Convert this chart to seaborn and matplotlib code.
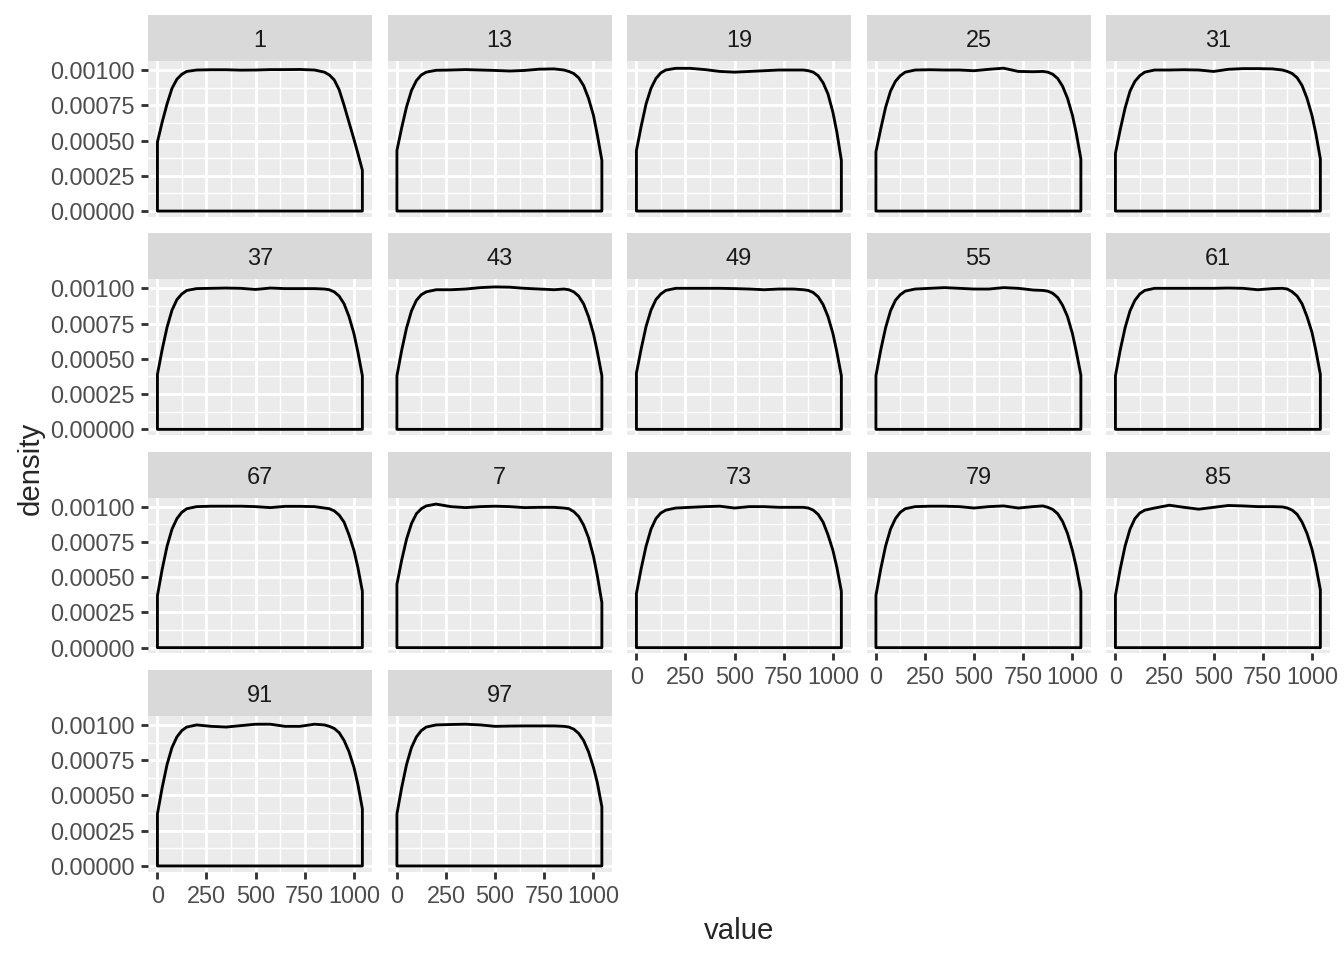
import numpy as np
import pandas as pd
import matplotlib
matplotlib.use("Agg")
import matplotlib.pyplot as plt
import seaborn as sns
from matplotlib.patches import Rectangle
from matplotlib.ticker import MultipleLocator, StrMethodFormatter

# panel labels (ggplot sorts them as text)
panels = ["1", "13", "19", "25", "31", "37", "43", "49", "55",
          "61", "67", "7", "73", "79", "85", "91", "97"]

xs = [1, 25, 50, 75, 100, 125, 150, 200, 275, 350, 425, 500, 575,
      650, 725, 800, 850, 875, 900, 925, 950, 975, 1000, 1020, 1043]

# density values in thousandths, one list per panel
d1 = [0.49, 0.63, 0.76, 0.87, 0.935, 0.97, 0.99, 1.0, 1.002, 1.002, 0.999, 1.0, 1.003,
      1.003, 1.004, 1.0, 0.985, 0.965, 0.93, 0.86, 0.75, 0.63, 0.51, 0.41, 0.29]
d13 = [0.43, 0.59, 0.74, 0.855, 0.925, 0.965, 0.985, 0.998, 1.0, 1.003, 1.0, 0.997, 0.993,
       0.997, 1.006, 1.008, 1.0, 0.99, 0.975, 0.945, 0.89, 0.80, 0.68, 0.54, 0.36]
d19 = [0.43, 0.60, 0.76, 0.87, 0.94, 0.98, 1.0, 1.012, 1.012, 1.003, 0.99, 0.985, 0.99,
       0.995, 1.0, 1.0, 1.0, 0.995, 0.985, 0.96, 0.91, 0.83, 0.70, 0.56, 0.36]
d25 = [0.42, 0.58, 0.735, 0.85, 0.92, 0.96, 0.985, 1.0, 1.002, 1.0, 1.0, 0.995, 1.005,
       1.013, 0.99, 0.988, 0.99, 0.985, 0.97, 0.94, 0.885, 0.80, 0.68, 0.55, 0.37]
d31 = [0.41, 0.575, 0.73, 0.85, 0.92, 0.96, 0.985, 1.0, 1.0, 1.002, 1.0, 0.99, 1.005,
       1.01, 1.01, 1.008, 1.0, 0.99, 0.975, 0.945, 0.89, 0.80, 0.68, 0.55, 0.37]
d37 = [0.39, 0.565, 0.725, 0.845, 0.92, 0.96, 0.985, 0.998, 1.0, 1.002, 1.0, 0.992, 1.002,
       0.998, 0.998, 0.998, 0.995, 0.99, 0.975, 0.945, 0.89, 0.80, 0.68, 0.55, 0.38]
d43 = [0.38, 0.56, 0.72, 0.84, 0.915, 0.955, 0.975, 0.99, 0.99, 0.995, 1.005, 1.01, 1.008,
       1.0, 0.995, 0.99, 0.995, 0.99, 0.975, 0.945, 0.89, 0.80, 0.68, 0.55, 0.38]
d49 = [0.40, 0.57, 0.73, 0.845, 0.92, 0.96, 0.985, 1.0, 1.0, 1.0, 1.0, 0.998, 0.995,
       0.99, 0.995, 0.995, 0.99, 0.985, 0.97, 0.94, 0.885, 0.80, 0.68, 0.55, 0.38]
d55 = [0.38, 0.56, 0.72, 0.84, 0.915, 0.955, 0.98, 0.995, 1.0, 1.005, 1.0, 0.995, 0.995,
       1.005, 1.0, 0.988, 0.985, 0.98, 0.965, 0.935, 0.88, 0.80, 0.68, 0.55, 0.385]
d61 = [0.38, 0.56, 0.72, 0.84, 0.915, 0.96, 0.985, 1.0, 1.0, 1.0, 1.0, 1.0, 1.002,
       1.0, 0.99, 0.998, 1.0, 0.995, 0.975, 0.945, 0.89, 0.80, 0.69, 0.56, 0.39]
d67 = [0.37, 0.555, 0.72, 0.84, 0.915, 0.96, 0.985, 1.0, 1.003, 1.003, 1.003, 1.0, 0.993,
       1.002, 1.002, 1.0, 0.99, 0.985, 0.97, 0.94, 0.89, 0.80, 0.69, 0.57, 0.40]
d7 = [0.45, 0.62, 0.77, 0.88, 0.95, 0.985, 1.005, 1.018, 1.0, 0.993, 1.0, 1.003, 1.0,
      0.993, 0.995, 0.995, 0.99, 0.985, 0.965, 0.93, 0.87, 0.78, 0.65, 0.51, 0.32]
d73 = [0.385, 0.56, 0.72, 0.84, 0.915, 0.955, 0.975, 0.99, 0.995, 1.0, 1.003, 0.99, 1.0,
       1.0, 0.995, 0.995, 0.995, 0.99, 0.975, 0.945, 0.89, 0.80, 0.69, 0.57, 0.40]
d79 = [0.37, 0.555, 0.72, 0.84, 0.915, 0.96, 0.985, 1.0, 1.003, 1.003, 1.0, 0.99, 1.0,
       1.005, 0.99, 1.0, 1.005, 0.995, 0.98, 0.95, 0.895, 0.81, 0.69, 0.57, 0.40]
d85 = [0.37, 0.555, 0.72, 0.84, 0.915, 0.955, 0.975, 0.99, 1.01, 0.995, 0.982, 0.995, 1.008,
       1.005, 1.0, 1.0, 0.998, 0.99, 0.975, 0.945, 0.89, 0.81, 0.70, 0.58, 0.41]
d91 = [0.37, 0.555, 0.72, 0.84, 0.915, 0.96, 0.985, 1.0, 0.99, 0.985, 0.995, 1.005, 1.005,
       0.99, 0.99, 1.005, 1.0, 0.99, 0.975, 0.945, 0.89, 0.81, 0.70, 0.58, 0.405]
d97 = [0.37, 0.555, 0.72, 0.84, 0.915, 0.96, 0.985, 1.0, 1.003, 1.005, 1.0, 0.99, 0.992,
       0.993, 0.993, 0.993, 0.99, 0.985, 0.97, 0.94, 0.89, 0.81, 0.70, 0.59, 0.42]

curves = [d1, d13, d19, d25, d31, d37, d43, d49, d55,
          d61, d67, d7, d73, d79, d85, d91, d97]

x_ticks = [0, 250, 500, 750, 1000]
y_ticks = [0.0, 0.00025, 0.0005, 0.00075, 0.001]

# long table for the facet grid
df = pd.concat(
    [pd.DataFrame({"panel": p, "value": xs, "density": np.array(c) / 1000})
     for p, c in zip(panels, curves)],
    ignore_index=True,
)

sns.set_theme(style="white")
plt.rcParams["font.family"] = ["Liberation Sans", "DejaVu Sans"]

W, H = 1344, 960
DPI = 192


def draw_density(data, **kws):
    ax = plt.gca()
    # closed outline like geom_density: down to zero at both ends
    px = np.r_[data["value"].iloc[0], data["value"].to_numpy(), data["value"].iloc[-1]]
    py = np.r_[0, data["density"].to_numpy(), 0]
    ax.fill(px, py, facecolor="none", edgecolor="black", linewidth=1.07,
            joinstyle="round")


g = sns.FacetGrid(df, col="panel", col_wrap=5, col_order=panels,
                  sharex=True, sharey=True, height=1.2, aspect=1.4, despine=False)
g.map_dataframe(draw_density)
g.set_titles("")
g.set_axis_labels("", "")

fig = g.figure
fig.set_size_inches(W / DPI, H / DPI)
fig.set_dpi(DPI)

# panel geometry in pixels
left0, col_step, pw = 148, 239.5, 224
top0, row_step, ph = 61, 218.3, 155.7
strip_h = 46

for i, ax in enumerate(g.axes.flat):
    r, c = divmod(i, 5)
    left = left0 + c * col_step
    top = top0 + r * row_step
    ax.set_position([left / W, 1 - (top + ph) / H, pw / W, ph / H])

    ax.set_facecolor("#EBEBEB")
    for s in ax.spines.values():
        s.set_visible(False)
    ax.set_xlim(-47, 1092)
    ax.set_ylim(-0.00004, 0.001064)
    ax.set_xticks(x_ticks)
    ax.set_yticks(y_ticks)
    ax.xaxis.set_minor_locator(MultipleLocator(125))
    ax.yaxis.set_minor_locator(MultipleLocator(0.000125))
    ax.yaxis.set_major_formatter(StrMethodFormatter("{x:.5f}"))
    ax.set_axisbelow(True)
    ax.grid(which="major", color="white", linewidth=1.07)
    ax.grid(which="minor", color="white", linewidth=0.53)

    bottom = i + 5 >= len(panels)
    first_col = c == 0
    ax.tick_params(which="major", length=2.75, width=1.07, color="#333333",
                   labelcolor="#4D4D4D", labelsize=8.8, pad=2.2,
                   bottom=bottom, labelbottom=bottom,
                   left=first_col, labelleft=first_col)
    ax.tick_params(which="minor", length=0)

    # strip above the panel
    sh = strip_h / ph
    ax.add_patch(Rectangle((0, 1), 1, sh, transform=ax.transAxes,
                           facecolor="#D9D9D9", edgecolor="none", clip_on=False))
    ax.text(0.5, 1 + sh / 2, panels[i], transform=ax.transAxes,
            ha="center", va="center_baseline", fontsize=8.8, color="#1A1A1A")

fig.text(739 / W, 1 - 931 / H, "value", ha="center", va="center", fontsize=11)
fig.text(31 / W, 1 - 468 / H, "density", ha="center", va="center",
         rotation=90, fontsize=11)

fig.savefig("out.png", dpi=DPI, facecolor="white")
